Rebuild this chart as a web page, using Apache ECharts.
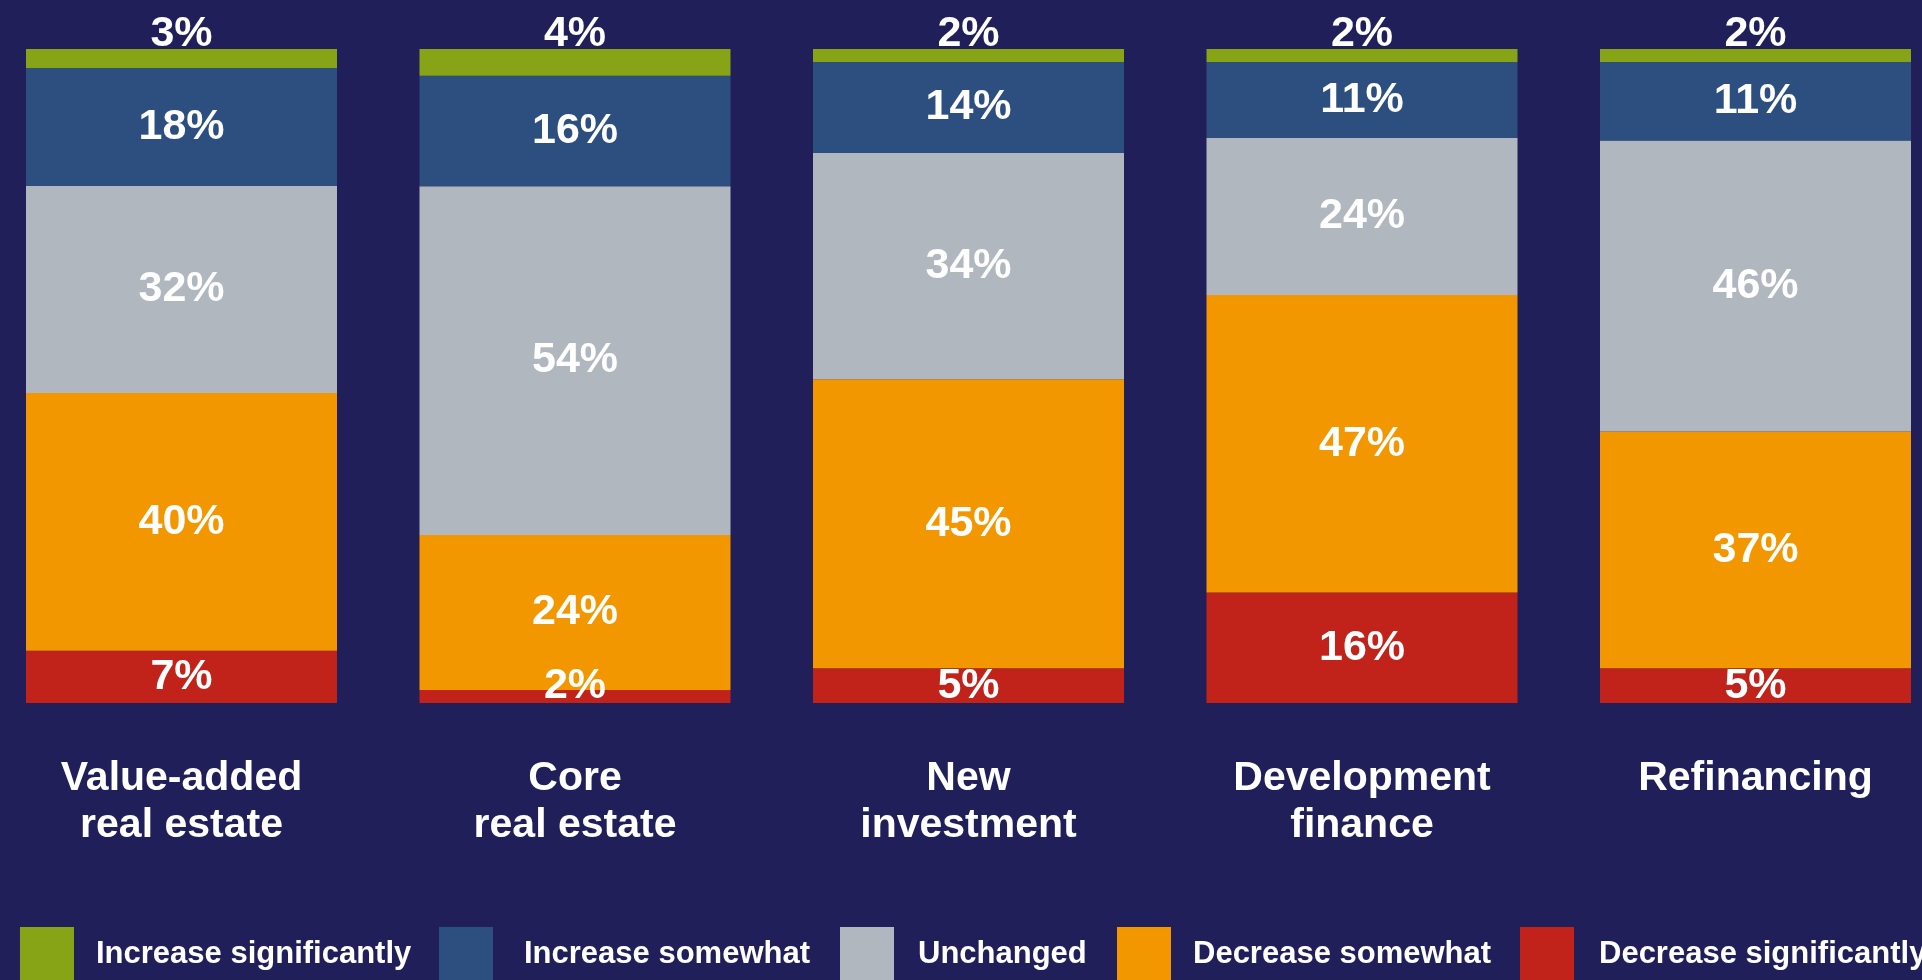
<!DOCTYPE html>
<html>
<head>
<meta charset="utf-8">
<title>Lending outlook</title>
<script src="https://cdn.jsdelivr.net/npm/echarts@6/dist/echarts.min.js"></script>
<style>
  html, body { margin: 0; padding: 0; background: #201f5a; }
  #chart { width: 1922px; height: 980px; }
</style>
</head>
<body>
<div id="chart"></div>
<script>
// categories (x axis)
var categories = [
  'Value-added\nreal estate',
  'Core\nreal estate',
  'New\ninvestment',
  'Development\nfinance',
  'Refinancing'
];

// segment heights as drawn (share of respondents, %)
var increaseSignificantly = [2.9, 4.1, 2.0, 2.0, 2.0];
var increaseSomewhat = [18.0, 16.9, 13.9, 11.6, 12.0];
var unchanged = [31.7, 53.3, 34.6, 24.0, 44.5];
var decreaseSomewhat = [39.4, 23.7, 44.2, 45.5, 36.2];
var decreaseSignificantly = [8.0, 2.0, 5.3, 16.9, 5.3];

// printed labels
var increaseSignificantlyLabels = ['3%', '4%', '2%', '2%', '2%'];
var increaseSomewhatLabels = ['18%', '16%', '14%', '11%', '11%'];
var unchangedLabels = ['32%', '54%', '34%', '24%', '46%'];
var decreaseSomewhatLabels = ['40%', '24%', '45%', '47%', '37%'];
var decreaseSignificantlyLabels = ['7%', '2%', '5%', '16%', '5%'];

var legendNames = [
  'Increase significantly',
  'Increase somewhat',
  'Unchanged',
  'Decrease somewhat',
  'Decrease significantly'
];

var fontFamily = '"Liberation Sans", Arial, Helvetica, sans-serif';

var myChart = echarts.init(document.getElementById('chart'));

function makeSeries(name, values, labels, color, labelPos) {
  return {
    name: name,
    type: 'bar',
    stack: 'total',
    barWidth: 311,
    itemStyle: { color: color },
    label: {
      show: true,
      position: labelPos,
      distance: -7,
      color: '#ffffff',
      fontFamily: fontFamily,
      fontWeight: 'bold',
      fontSize: 43,
      formatter: function (p) {
        return labels[p.dataIndex];
      }
    },
    data: values.map(function (v) {
      var item = { value: v };
      // very thin bottom segment: label is nudged up a little
      if (labelPos === 'inside' && name === 'Decrease significantly' && v < 3) {
        item.label = { offset: [0, -10] };
      }
      return item;
    })
  };
}

// legend entries are placed one by one (uneven spacing in the original)
var legendLeft = [20, 439, 840, 1117, 1520];
var legendTextPad = [17, 26, 19, 17, 20];
var legends = legendNames.map(function (n, i) {
  return {
    left: legendLeft[i],
    top: 927,
    padding: 0,
    itemWidth: 54,
    itemHeight: 54,
    icon: 'rect',
    selectedMode: false,
    data: [n],
    textStyle: {
      color: '#ffffff',
      fontFamily: fontFamily,
      fontWeight: 'bold',
      fontSize: 31,
      padding: [0, 0, 0, legendTextPad[i]]
    }
  };
});

var option = {
  backgroundColor: '#201f5a',
  animation: false,
  grid: {
    left: 181.5,
    right: 166.5,
    top: 49,
    bottom: 277
  },
  legend: legends,
  xAxis: {
    type: 'category',
    data: categories,
    boundaryGap: false,
    axisLine: { show: false },
    axisTick: { show: false },
    splitLine: { show: false },
    axisLabel: {
      margin: 52,
      color: '#ffffff',
      fontFamily: fontFamily,
      fontWeight: 'bold',
      fontSize: 41,
      lineHeight: 47,
      verticalAlign: 'top'
    }
  },
  yAxis: {
    type: 'value',
    min: 0,
    max: 100,
    show: false
  },
  series: [
    makeSeries('Decrease significantly', decreaseSignificantly, decreaseSignificantlyLabels, '#c1231a', 'inside'),
    makeSeries('Decrease somewhat', decreaseSomewhat, decreaseSomewhatLabels, '#f39700', 'inside'),
    makeSeries('Unchanged', unchanged, unchangedLabels, '#b0b7be', 'inside'),
    makeSeries('Increase somewhat', increaseSomewhat, increaseSomewhatLabels, '#2c4f80', 'inside'),
    makeSeries('Increase significantly', increaseSignificantly, increaseSignificantlyLabels, '#87a316', 'top')
  ]
};

option && myChart.setOption(option);
window.addEventListener('resize', function () {
  myChart.resize();
});
</script>
</body>
</html>
